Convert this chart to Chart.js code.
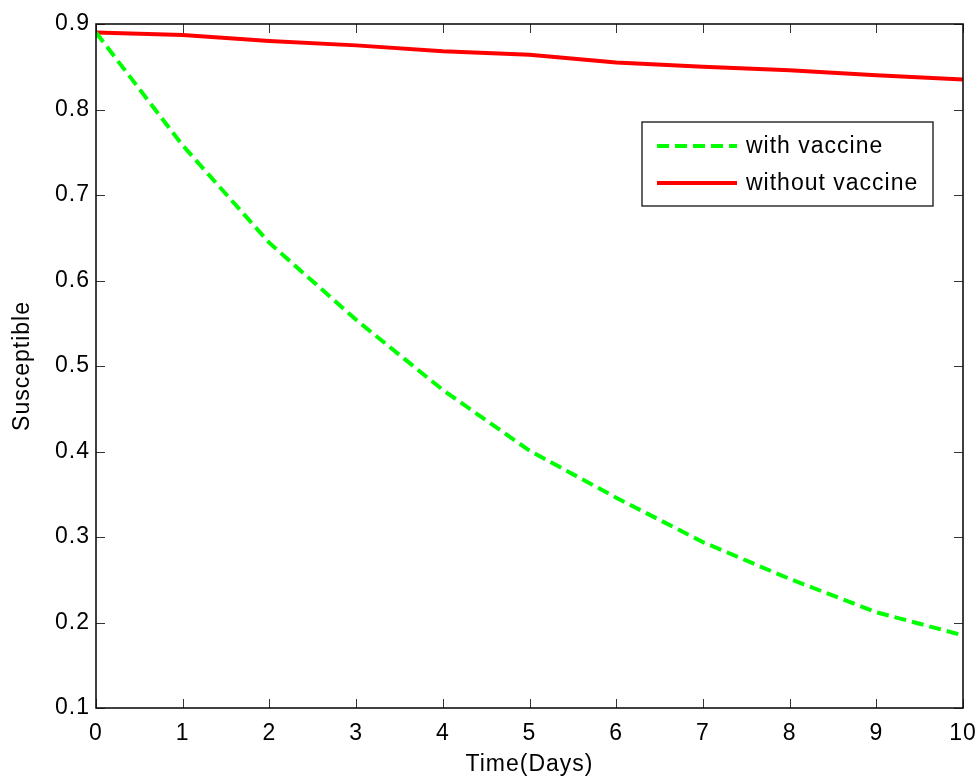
<!DOCTYPE html>
<html>
<head>
<meta charset="utf-8">
<script src="https://cdn.jsdelivr.net/npm/chart.js@4/dist/chart.umd.min.js"></script>
<style>
html,body{margin:0;padding:0;background:#fff;}
#wrap{width:980px;height:778px;position:relative;}
</style>
</head>
<body>
<div id="wrap"><canvas id="c" width="980" height="778"></canvas></div>
<script>
// ---- data ----
const days = [0, 1, 2, 3, 4, 5, 6, 7, 8, 9, 10];
const withVaccine = [0.890, 0.758, 0.644, 0.554, 0.472, 0.401, 0.346, 0.294, 0.251, 0.212, 0.185];
const withoutVaccine = [0.890, 0.887, 0.880, 0.875, 0.868, 0.864, 0.855, 0.850, 0.846, 0.840, 0.835];
const xTickValues = [0, 1, 2, 3, 4, 5, 6, 7, 8, 9, 10];
const yTickValues = [0.1, 0.2, 0.3, 0.4, 0.5, 0.6, 0.7, 0.8, 0.9];
const seriesLabels = ['with vaccine', 'without vaccine'];
const xTitle = 'Time(Days)';
const yTitle = 'Susceptible';

const FONT_FAMILY = '"Liberation Sans", Arial, Helvetica, sans-serif';
const FONT_SIZE = 23;
const FONT = {family: FONT_FAMILY, size: FONT_SIZE};

const toXY = (xs, ys) => xs.map((x, i) => ({x: x, y: ys[i]}));

const spacingPlugin = {
  id: 'spacing',
  beforeDraw(chart) { chart.ctx.letterSpacing = '1px'; }
};

const frameLegendPlugin = {
  id: 'frameLegend',
  afterDraw(chart) {
    const ctx = chart.ctx;
    const a = chart.chartArea;
    const xs = chart.scales.x, ys = chart.scales.y;
    ctx.save();
    // inward ticks
    ctx.strokeStyle = '#333';
    ctx.lineWidth = 1;
    const TL = 9;
    ctx.beginPath();
    xTickValues.forEach(v => {
      const px = Math.round(xs.getPixelForValue(v)) + 0.5;
      ctx.moveTo(px, a.bottom); ctx.lineTo(px, a.bottom - TL);
      ctx.moveTo(px, a.top); ctx.lineTo(px, a.top + TL);
    });
    yTickValues.forEach(v => {
      const py = Math.round(ys.getPixelForValue(v)) + 0.5;
      ctx.moveTo(a.left, py); ctx.lineTo(a.left + TL, py);
      ctx.moveTo(a.right, py); ctx.lineTo(a.right - TL, py);
    });
    ctx.stroke();
    // box
    ctx.strokeStyle = '#111';
    ctx.lineWidth = 1.6;
    ctx.strokeRect(a.left, a.top, a.right - a.left, a.bottom - a.top);

    // legend
    const bx = 642, by = 122, bw = 291, bh = 84;
    ctx.fillStyle = '#fff';
    ctx.fillRect(bx, by, bw, bh);
    ctx.strokeStyle = '#111';
    ctx.lineWidth = 1.3;
    ctx.strokeRect(bx, by, bw, bh);
    const rows = [146, 183];
    chart.data.datasets.forEach((ds, i) => {
      const y = rows[i];
      ctx.beginPath();
      ctx.strokeStyle = ds.borderColor;
      ctx.lineWidth = ds.borderWidth;
      ctx.setLineDash(ds.borderDash || []);
      ctx.moveTo(657, y); ctx.lineTo(737, y);
      ctx.stroke();
      ctx.setLineDash([]);
      ctx.fillStyle = '#000';
      ctx.font = FONT_SIZE + 'px ' + FONT_FAMILY;
      ctx.textAlign = 'left';
      ctx.textBaseline = 'middle';
      ctx.fillText(ds.label, 746, y + 1);
    });
    ctx.restore();
  }
};

new Chart(document.getElementById('c'), {
  type: 'line',
  data: {
    datasets: [
      {
        label: seriesLabels[0],
        data: toXY(days, withVaccine),
        borderColor: '#00ff00',
        borderWidth: 4,
        borderDash: [12, 6],
        pointRadius: 0,
        tension: 0,
        fill: false
      },
      {
        label: seriesLabels[1],
        data: toXY(days, withoutVaccine),
        borderColor: '#ff0000',
        borderWidth: 4,
        pointRadius: 0,
        tension: 0,
        fill: false
      }
    ]
  },
  options: {
    responsive: false,
    devicePixelRatio: 1,
    animation: false,
    layout: {padding: {left: 0, right: 17, top: 24, bottom: 0}},
    plugins: {legend: {display: false}, tooltip: {enabled: false}},
    scales: {
      x: {
        type: 'linear',
        min: 0, max: 10,
        afterBuildTicks: s => { s.ticks = xTickValues.map(v => ({value: v})); },
        afterFit: s => { s.height = 70; s.paddingLeft = 0; s.paddingRight = 0; },
        grid: {display: false, drawTicks: false},
        border: {display: false},
        ticks: {
          font: FONT, color: '#000', padding: 12, maxRotation: 0, autoSkip: false,
          callback: v => String(v)
        },
        title: {display: true, text: xTitle, font: FONT, color: '#000', padding: {top: 0, bottom: 0}}
      },
      y: {
        type: 'linear',
        min: 0.1, max: 0.9,
        afterBuildTicks: s => { s.ticks = yTickValues.map(v => ({value: v})); },
        afterFit: s => { s.width = 96; s.paddingTop = 0; s.paddingBottom = 0; },
        grid: {display: false, drawTicks: false},
        border: {display: false},
        ticks: {
          font: FONT, color: '#000', padding: 6, autoSkip: false,
          callback: v => Number(v).toFixed(1)
        },
        title: {display: true, text: yTitle, font: FONT, color: '#000', padding: {top: 9, bottom: 0}}
      }
    }
  },
  plugins: [spacingPlugin, frameLegendPlugin]
});
</script>
</body>
</html>
